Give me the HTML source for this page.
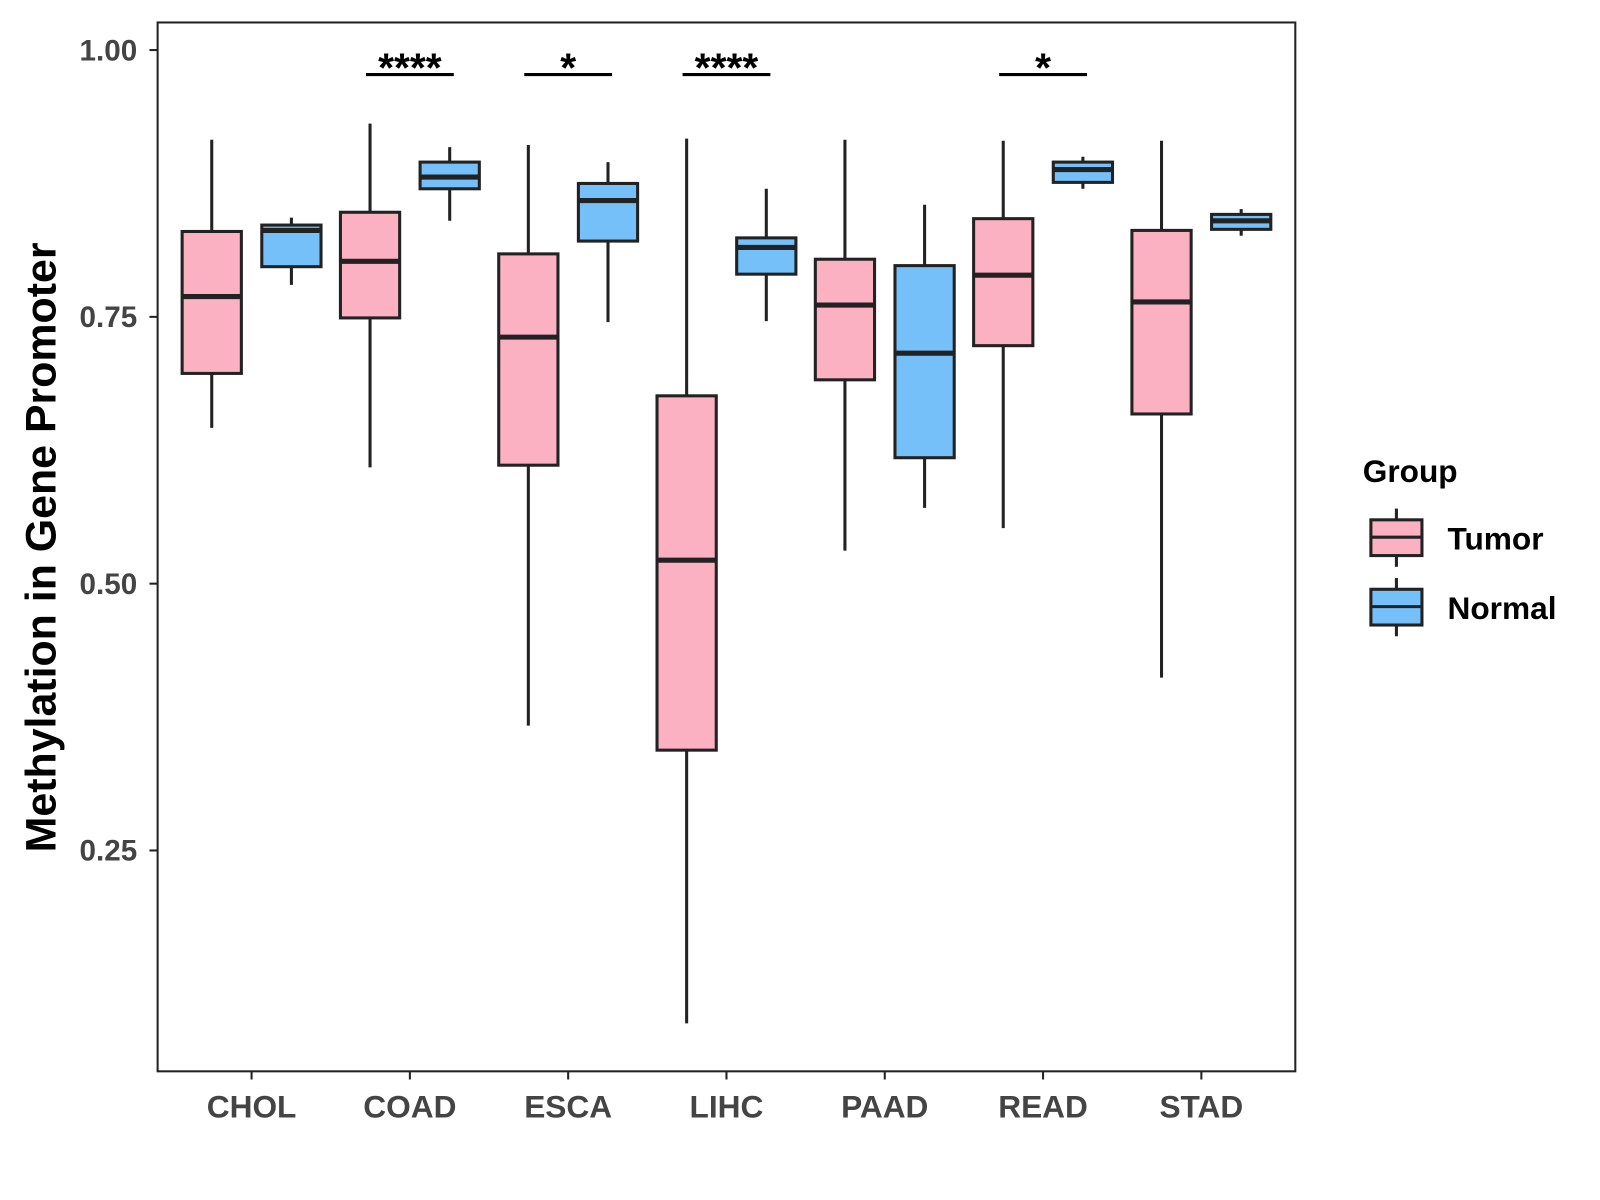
<!DOCTYPE html>
<html><head><meta charset="utf-8"><style>
html,body{margin:0;padding:0;background:#fff;}
svg{display:block;font-family:"Liberation Sans",Arial,sans-serif;}
</style></head><body>
<svg id="chart" width="1600" height="1200" viewBox="0 0 1566 1175">
<rect x="154" y="22" width="1114" height="1027" fill="#fff" stroke="#222" stroke-width="2"/>
<text transform="translate(54,536) rotate(-90)" text-anchor="middle" font-size="42" font-weight="bold" fill="#000">Methylation in Gene Promoter</text>
<g id="marks"></g>
<g>
<text x="1334" y="472" font-size="31" font-weight="bold" fill="#000">Group</text>
<g>
<line x1="1367" y1="498" x2="1367" y2="555" stroke="#222" stroke-width="3"/>
<rect x="1342" y="509" width="50" height="35" fill="#fcb1c3" stroke="#222" stroke-width="3"/>
<line x1="1342" y1="526" x2="1392" y2="526" stroke="#222" stroke-width="3"/>
<text x="1417" y="538" font-size="31" font-weight="bold" fill="#000">Tumor</text>
</g>
<g>
<line x1="1367" y1="566" x2="1367" y2="623" stroke="#222" stroke-width="3"/>
<rect x="1342" y="577" width="50" height="35" fill="#75c0f8" stroke="#222" stroke-width="3"/>
<line x1="1342" y1="594" x2="1392" y2="594" stroke="#222" stroke-width="3"/>
<text x="1417" y="606" font-size="31" font-weight="bold" fill="#000">Normal</text>
</g>
</g>
</svg>
<script>
const categories = ["CHOL","COAD","ESCA","LIHC","PAAD","READ","STAD"];
// [whiskerLow, q1, median, q3, whiskerHigh]
const tumorStats = [
 [0.646,0.697,0.769,0.830,0.916],
 [0.609,0.749,0.802,0.848,0.931],
 [0.367,0.611,0.731,0.809,0.911],
 [0.088,0.344,0.522,0.676,0.917],
 [0.531,0.691,0.761,0.804,0.916],
 [0.552,0.723,0.789,0.842,0.915],
 [0.412,0.659,0.764,0.831,0.915]
];
const normalStats = [
 [0.780,0.797,0.831,0.836,0.843],
 [0.840,0.870,0.881,0.895,0.909],
 [0.745,0.821,0.859,0.875,0.895],
 [0.746,0.790,0.815,0.824,0.870],
 [0.571,0.618,0.716,0.798,0.855],
 [0.870,0.876,0.888,0.895,0.900],
 [0.826,0.832,0.840,0.846,0.851]
];
const yTicks = [0.25,0.50,0.75,1.00];
const yTickLabels = ["0.25","0.50","0.75","1.00"];
const sigLabels = ["","****","*","****","","*",""];

const NS="http://www.w3.org/2000/svg";
const g=document.getElementById('marks');
const y=v=>49+(1-v)*1045;
const x=i=>246+i*155;
function el(tag,attrs,parent){const e=document.createElementNS(NS,tag);for(const k in attrs)e.setAttribute(k,attrs[k]);(parent||g).appendChild(e);return e;}

yTicks.forEach((t,i)=>{
  const tk=el('line',{x1:146,x2:154,y1:y(t),y2:y(t),stroke:'#222','stroke-width':2});
  
  
  const tl=el('text',{x:134,y:y(t)+10,'text-anchor':'end','font-size':29,'font-weight':'bold',fill:'#444'});
  tl.textContent=yTickLabels[i];
  
  
});
categories.forEach((c,i)=>{
  const tk=el('line',{x1:x(i),x2:x(i),y1:1049,y2:1057,stroke:'#222','stroke-width':2});
  
  
  const tl=el('text',{x:x(i),y:1094,'text-anchor':'middle','font-size':31,'font-weight':'bold',fill:'#444'});
  tl.textContent=c;
  
  
});
function box(s,cx,fill,name){
  const grp=el('g',{});
  
  
  el('line',{x1:cx,x2:cx,y1:y(s[0]),y2:y(s[4]),stroke:'#222','stroke-width':3},grp);
  el('rect',{x:cx-29,width:58,y:y(s[3]),height:y(s[1])-y(s[3]),fill:fill,stroke:'#222','stroke-width':3},grp);
  el('line',{x1:cx-29,x2:cx+29,y1:y(s[2]),y2:y(s[2]),stroke:'#222','stroke-width':5},grp);
}
categories.forEach((c,i)=>{
  box(tumorStats[i],x(i)-39,'#fcb1c3','box-tumor-'+c.toLowerCase());
  box(normalStats[i],x(i)+39,'#75c0f8','box-normal-'+c.toLowerCase());
  if(sigLabels[i]){
    const ln=el('line',{x1:x(i)-43,x2:x(i)+43,y1:73,y2:73,stroke:'#000','stroke-width':3});
    
    
    const t=el('text',{x:x(i),y:80,'text-anchor':'middle','font-size':40,'font-weight':'bold',fill:'#000'});
    t.textContent=sigLabels[i];
    
    
  }
});
</script>
</body></html>
